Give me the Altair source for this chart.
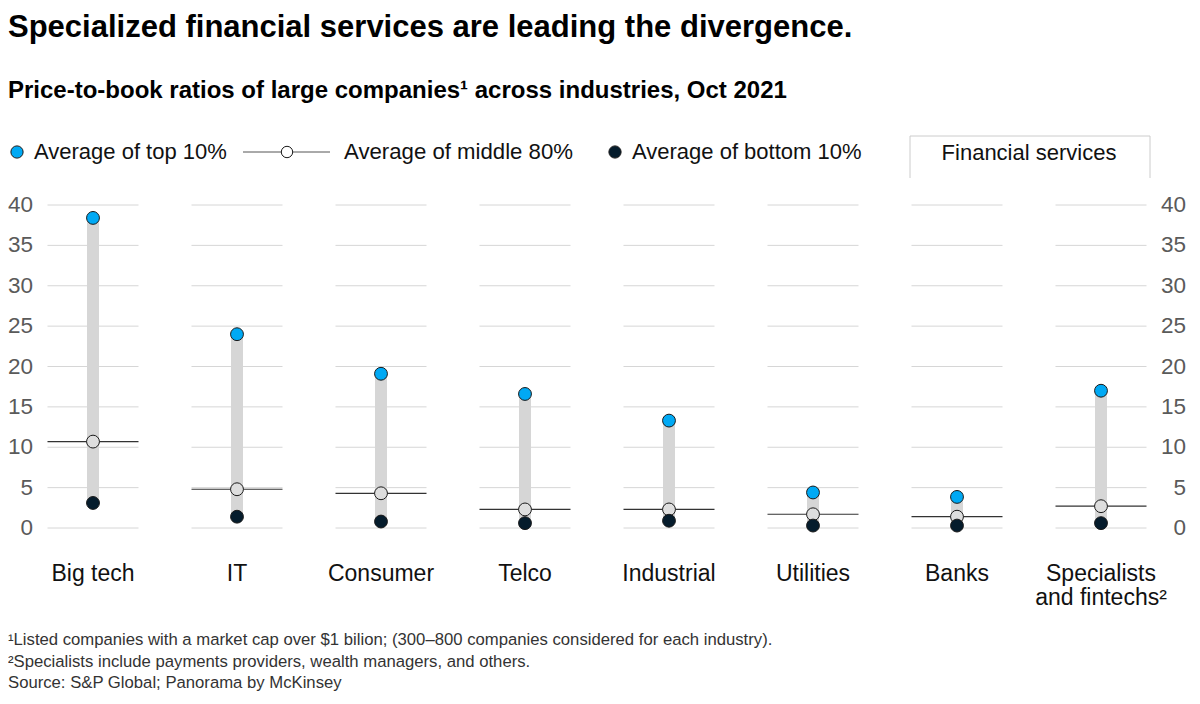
import altair as alt
import pandas as pd

# ---- data ----
categories = ["Big tech", "IT", "Consumer", "Telco", "Industrial", "Utilities",
              "Banks", "Specialists\nand fintechs²"]
top10 = [38.4, 24.0, 19.1, 16.6, 13.3, 4.4, 3.85, 17.0]
middle80 = [10.7, 4.8, 4.3, 2.3, 2.3, 1.7, 1.4, 2.7]
bottom10 = [3.1, 1.4, 0.8, 0.6, 0.9, 0.3, 0.3, 0.6]
tick_values = [0, 5, 10, 15, 20, 25, 30, 35, 40]

title_text = "Specialized financial services are leading the divergence."
subtitle_text = "Price-to-book ratios of large companies¹ across industries, Oct 2021"
legend_labels = ["Average of top 10%", "Average of middle 80%", "Average of bottom 10%"]
group_label = "Financial services"
footnotes = [
    "¹Listed companies with a market cap over $1 bilion; (300–800 companies considered for each industry).",
    "²Specialists include payments providers, wealth managers, and others.",
    " Source: S&P Global; Panorama by McKinsey",
]

# ---- tables ----
df = pd.DataFrame({"i": list(range(len(categories))), "cat": categories,
                   "top": top10, "mid": middle80, "bot": bottom10})
grid = pd.DataFrame([{"i": i, "t": t} for i in range(len(categories)) for t in tick_values])
ticks_df = pd.DataFrame({"t": tick_values})
one = pd.DataFrame({"a": [0]})

PADL, PADT = 4, 8
W, H = 1184 - PADL, 688 - PADT
FONT = "Liberation Sans"
BLUE = "#00a9f4"
NAVY = "#051c2c"


def px(x):  # page x -> chart x
    return x - 8 - PADL


def py(y):  # page y -> chart y
    return y - 8 - PADT


# x: category centres at page x = 93 + 144*i ; y: value 0 at page y 528, 8.075 px per unit
x0 = px(93)
xs = alt.Scale(domain=[-x0 / 144, (W - x0) / 144], range=[0, W], nice=False, zero=False)
y0 = H - py(528)
ys = alt.Scale(domain=[-y0 / 8.075, (H - y0) / 8.075], range=[H, 0], nice=False, zero=False)
X = lambda f: alt.X(f, type="quantitative", scale=xs, axis=None)
Y = lambda f: alt.Y(f, type="quantitative", scale=ys, axis=None)
HALF = 0.316

gridlines = alt.Chart(grid).transform_calculate(
    lo=f"datum.i - {HALF}", hi=f"datum.i + {HALF}"
).mark_rule(color="#d6d6d6", strokeWidth=1).encode(
    x=X("lo:Q"), x2="hi:Q", y=Y("t:Q"))

bars = alt.Chart(df).mark_rule(color="#d6d6d6", strokeWidth=12, strokeCap="butt").encode(
    x=X("i:Q"), y=Y("bot:Q"), y2="top:Q")

midline = alt.Chart(df).transform_calculate(
    lo=f"datum.i - {HALF}", hi=f"datum.i + {HALF}"
).mark_rule(color="#333333", strokeWidth=1.2).encode(
    x=X("lo:Q"), x2="hi:Q", y=Y("mid:Q"))

pt_kw = dict(shape="circle", size=165, filled=True, stroke="#1a1a1a", strokeWidth=1, opacity=1)
top_pts = alt.Chart(df).mark_point(fill=BLUE, **pt_kw).encode(x=X("i:Q"), y=Y("top:Q"))
mid_pts = alt.Chart(df).mark_point(fill="#dedede", **pt_kw).encode(x=X("i:Q"), y=Y("mid:Q"))
bot_pts = alt.Chart(df).mark_point(fill=NAVY, **pt_kw).encode(x=X("i:Q"), y=Y("bot:Q"))

cat_labels = alt.Chart(df).mark_text(
    font=FONT, fontSize=23, color="#111111", lineBreak="\n", lineHeight=24,
    baseline="alphabetic", align="center"
).encode(x=X("i:Q"), y=alt.value(py(581)), text="cat:N")

ylab_left = alt.Chart(ticks_df).mark_text(
    font=FONT, fontSize=22.5, color="#5a5a5a", align="right", baseline="middle"
).encode(x=alt.value(px(33)), y=Y("t:Q"), text=alt.Text("t:Q", format="d"))
ylab_right = alt.Chart(ticks_df).mark_text(
    font=FONT, fontSize=22.5, color="#5a5a5a", align="right", baseline="middle"
).encode(x=alt.value(px(1186)), y=Y("t:Q"), text=alt.Text("t:Q", format="d"))


def txt(s, x, y, size, weight="normal", align="left", color="#111111", baseline="alphabetic"):
    return alt.Chart(one).mark_text(
        text=s, font=FONT, fontSize=size, fontWeight=weight, align=align,
        baseline=baseline, color=color
    ).encode(x=alt.value(px(x)), y=alt.value(py(y)))


def dot(x, y, fill, size=150):
    return alt.Chart(one).mark_point(
        shape="circle", size=size, filled=True, fill=fill, stroke="#1a1a1a",
        strokeWidth=1, opacity=1
    ).encode(x=alt.value(px(x)), y=alt.value(py(y)))


def seg(x1, x2, y1, y2, color, w=1):
    return alt.Chart(one).mark_rule(color=color, strokeWidth=w).encode(
        x=alt.value(px(x1)), x2=alt.value(px(x2)), y=alt.value(py(y1)), y2=alt.value(py(y2)))


LY = 152
legend = (
    dot(17, LY, BLUE)
    + txt(legend_labels[0], 34, LY, 22, baseline="middle")
    + seg(243, 330, LY, LY, "#555555")
    + dot(287, LY, "white", 130)
    + txt(legend_labels[1], 344, LY, 22.2, baseline="middle")
    + dot(615, LY, NAVY)
    + txt(legend_labels[2], 632, LY, 22, baseline="middle")
)

box = (
    seg(910, 1150, 136, 136, "#cccccc")
    + seg(910, 910, 136, 178, "#cccccc")
    + seg(1150, 1150, 136, 178, "#cccccc")
    + txt(group_label, 1029, 153, 22, align="center", baseline="middle")
)

titles = (
    txt(title_text, 8, 37, 31, weight="bold", color="#000000")
    + txt(subtitle_text, 8, 98, 24, weight="bold", color="#000000")
)

notes = (
    txt(footnotes[0], 8, 645, 16.7, color="#333333")
    + txt(footnotes[1], 8, 667, 16.7, color="#333333")
    + txt(footnotes[2], 8, 688, 16.7, color="#333333")
)

chart = alt.layer(
    gridlines, bars, midline, mid_pts, top_pts, bot_pts,
    cat_labels, ylab_left, ylab_right, legend, box, titles, notes
).properties(
    width=W, height=H,
    padding={"left": PADL, "top": PADT, "right": 0, "bottom": 0},
    autosize=alt.AutoSizeParams(type="none")
).configure(background="white").configure_view(strokeWidth=0, stroke="transparent")

chart.save("out.html", embed_options={"renderer": "svg", "actions": False})
